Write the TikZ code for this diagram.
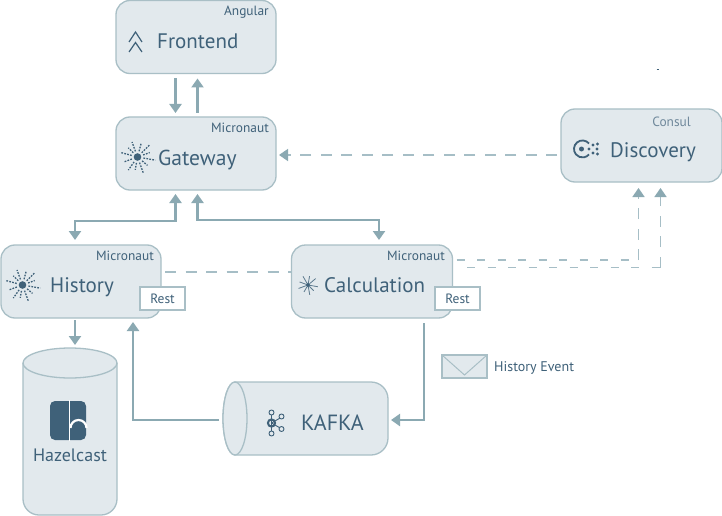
\documentclass[tikz,border=0pt]{standalone}
\usepackage{fontspec}
\setmainfont{PT Sans}
\usetikzlibrary{arrows.meta,calc}
\definecolor{boxfill}{HTML}{E2E9ED}
\definecolor{boxline}{HTML}{A9BFC6}
\definecolor{ink}{HTML}{3F6179}
\definecolor{conn}{HTML}{8BA9B2}
\definecolor{dashc}{HTML}{A6BEC6}
\tikzset{
  svc/.style={draw=boxline,fill=boxfill,line width=1.3pt,rounded corners=14pt,minimum width=160pt,minimum height=73pt,inner sep=0pt,outer sep=0pt},
  ghost/.style={inner sep=0pt,outer sep=0pt},
  title/.style={text=ink,font=\fontsize{21}{21}\selectfont,anchor=base west,inner sep=0pt},
  tech/.style={text=ink,font=\fontsize{13.4}{14}\selectfont,anchor=base east,inner sep=0pt},
  restbox/.style={draw=boxline,fill=white,line width=1.2pt,minimum width=45pt,minimum height=23pt,inner sep=0pt,text=ink,font=\fontsize{13.5}{14}\selectfont},
  arrowline/.style={draw=conn,line width=2.2pt,-{Triangle[width=12pt,length=9pt]}},
  bothline/.style={draw=conn,line width=2.2pt,{Triangle[width=12pt,length=9pt]}-{Triangle[width=12pt,length=9pt]}},
  dashline/.style={draw=dashc,line width=1.5pt,dash pattern=on 11pt off 9.5pt},
  dashtip/.style={dashline,-{Triangle[width=12pt,length=9pt,color=conn,fill=conn]}}
}
\newcommand{\sunicon}[2]{% x y
  \begin{scope}[shift={(#1,#2)}]
    \foreach \a/\r in {10/18,40/13,70/17,100/13,125/16,160/14,195/17,225/13,250/16,285/14,315/17,340/13}{
      \draw[ink,line width=1.3pt,dash pattern=on 1.7pt off 1.3pt] (\a:6) -- (\a:\r);
    }
    \fill[ink] (0,0) circle (3.8);
  \end{scope}}
\begin{document}
\begin{tikzpicture}[x=1pt,y=-1pt]
\useasboundingbox[fill=white] (0,0) rectangle (722,516);
% services
\node[svc] (frontend) at (196,37) {};
\node[svc] (gateway) at (196,153.5) {};
\node[svc] (history) at (81,281.5) {};
\node[svc,minimum width=161pt] (calc) at (372,281.5) {};
\node[svc,minimum width=161pt] (discovery) at (641.5,145.5) {};
% kafka cylinder
\draw[draw=boxline,fill=boxfill,line width=1.3pt] (235,382) -- (371,382) arc[start angle=-90,end angle=0,radius=17] -- (388,438) arc[start angle=0,end angle=90,radius=17] -- (235,455) arc[start angle=90,end angle=270,x radius=12,y radius=36.5] -- cycle;
\draw[draw=boxline,fill=boxfill,line width=1.3pt] (235,418.5) ellipse[x radius=12,y radius=36.5];
\node[ghost,minimum width=165pt,minimum height=73pt] (kafka) at (305.5,418.5) {};
% hazelcast cylinder
\draw[draw=boxline,fill=boxfill,line width=1.3pt] (23,363) -- (23,499) arc[start angle=180,end angle=90,radius=16] -- (101,515) arc[start angle=90,end angle=0,radius=16] -- (117,363);
\draw[draw=boxline,fill=boxfill,line width=1.3pt] (70,363) ellipse[x radius=47,y radius=15];
\node[ghost,minimum width=94pt,minimum height=167pt] (hazel) at (70,431.5) {};
% titles
\node[title] (frontendt) at (157,49) {Frontend};
\node[title,font=\fontsize{21.6}{22}\selectfont] (gatewayt) at (158,165) {Gateway};
\node[title] (historyt) at (50,292) {History};
\node[title] (calct) at (324,292) {Calculation};
\node[title] (discoveryt) at (610,157) {Discovery};
\node[title,font=\fontsize{22}{22}\selectfont] (kafkat) at (301,430) {KAFKA};
\node[text=ink,font=\fontsize{18}{18}\selectfont,anchor=base,inner sep=0pt] (hazelt) at (70,461) {Hazelcast};
% tech
\node[tech] (angular) at (269,16) {Angular};
\node[tech] (gwtech) at (269,132) {Micronaut};
\node[tech] (histech) at (154,260) {Micronaut};
\node[tech] (caltech) at (445,260) {Micronaut};
\node[tech,text=ink!75!white] (consul) at (691,127) {Consul};
% rest
\node[restbox] (rest1) at (162.5,298.5) {Rest};
\node[restbox] (rest2) at (457.5,298.5) {Rest};
% frontend icon
\draw[ink,line width=1.2pt] (129,42) -- (135.5,32) -- (142,42) (129,52) -- (135.5,42.5) -- (142,52);
% suns
\sunicon{137.5}{157}
\sunicon{22.5}{285}
\begin{scope}[shift={(308,285)}]
  \foreach \a/\r in {10/10,45/8,80/10,120/8,160/10,200/9,240/10,280/9,320/10}{
    \draw[ink!85!white,line width=0.8pt] (\a:2) -- (\a:\r);
  }
  \fill[ink] (0,0) circle (2);
\end{scope}
% consul icon
\draw[ink,line width=1.8pt] (589,143.5) arc[start angle=-40,end angle=-320,radius=8.5];
\fill[ink] (581.5,149) circle (2.5);
\foreach \p in {(589,149),(593,145),(593,153),(597,149),(597.5,144),(597.5,154)}{\fill[ink] \p circle (1.6);}
% kafka icon
\coordinate (kc) at (271.5,423);
\draw[ink,line width=2pt] (kc) circle (3.6);
\draw[ink,line width=0.9pt] (kc) -- (271.5,414) (kc) -- (271.5,432) (kc) -- (281,417.5) (kc) -- (281,428.5);
\foreach \p in {(271.5,412.5),(271.5,433.5),(281.5,416.5),(281.5,429)}{\draw[ink,line width=0.9pt,fill=boxfill] \p circle (2.5);}
% hazelcast logo
\fill[ink,rounded corners=5pt] (50,401) rectangle (86,440);
\fill[white] (68.7,400) rectangle (70.3,441);
\draw[white,line width=2.2pt] (70.5,428) arc[start angle=180,end angle=360,radius=8];
% envelope
\node[ghost,draw=boxline,fill=boxfill,line width=1.2pt,minimum width=45pt,minimum height=23pt] (mail) at (464.5,366.5) {};
\draw[boxline,line width=1pt] (mail.north west) -- (464.5,375) -- (mail.north east);
\node[text=ink,font=\fontsize{14}{14}\selectfont,anchor=base west,inner sep=0pt] (event) at (494,371) {History Event};
% stray mark
\draw[ink,line width=0.8pt] (656.5,69) -- (659,69);
% connectors
\coordinate (xa) at (175.5,0);
\coordinate (xb) at (197.5,0);
\coordinate (ya) at (0,221);
\coordinate (yb) at (0,220);
\coordinate (xh) at (75,0);
\coordinate (xc) at (379,0);
\coordinate (yd) at (0,155);
\coordinate (ye) at (0,272);
\draw[arrowline,shorten <=5pt,shorten >=4pt] (frontend.south -| xa) -- (gateway.north -| xa);
\draw[arrowline,shorten <=4pt,shorten >=5pt] (gateway.north -| xb) -- (frontend.south -| xb);
\coordinate (hk) at (history.north -| xh);
\coordinate (ck) at (calc.north -| xc);
\draw[bothline,shorten <=4pt,shorten >=5pt] (gateway.south -| xa) -- (ya -| xa) -- (ya -| xh) -- (hk);
\draw[bothline,shorten <=4pt,shorten >=5pt] (gateway.south -| xb) -- (yb -| xb) -- (yb -| xc) -- (ck);
\draw[dashtip,shorten <=4pt,shorten >=3pt] (discovery.west |- yd) -- (gateway.east |- yd);
\draw[dashline,shorten <=4pt] (history.east |- ye) -- (calc.west |- ye);
% calc to discovery
\coordinate (d1) at (638.5,0);
\coordinate (d2) at (660.5,0);
\coordinate (y1) at (0,260);
\coordinate (y2) at (0,267.5);
\coordinate (c1) at (y1 -| d1);
\coordinate (c2) at (y2 -| d2);
\draw[dashline,dash pattern=on 8pt off 12.5pt,shorten <=4pt] (calc.east |- y1) -- (c1);
\draw[dashtip,shorten >=6pt] (c1) -- (discovery.south -| d1);
\draw[dashline,dash pattern=on 8pt off 12.5pt,dash phase=10pt,shorten <=4pt] (calc.east |- y2) -- (c2);
\draw[dashtip,shorten >=6pt] (c2) -- (discovery.south -| d2);
% vertical links
\draw[arrowline,shorten <=2pt,shorten >=3pt] (history.south -| xh) -- (hazel.north -| xh);
\coordinate (xk) at (424,0);
\coordinate (yk) at (0,420);
\draw[arrowline,shorten <=5pt,shorten >=3pt] (calc.south -| xk) -- (yk -| xk) -- (kafka.east |- yk);
\coordinate (xr) at (133,0);
\draw[arrowline,shorten <=4pt,shorten >=4pt] (kafka.west |- yk) -- (yk -| xr) -- (history.south -| xr);
\end{tikzpicture}
\end{document}
